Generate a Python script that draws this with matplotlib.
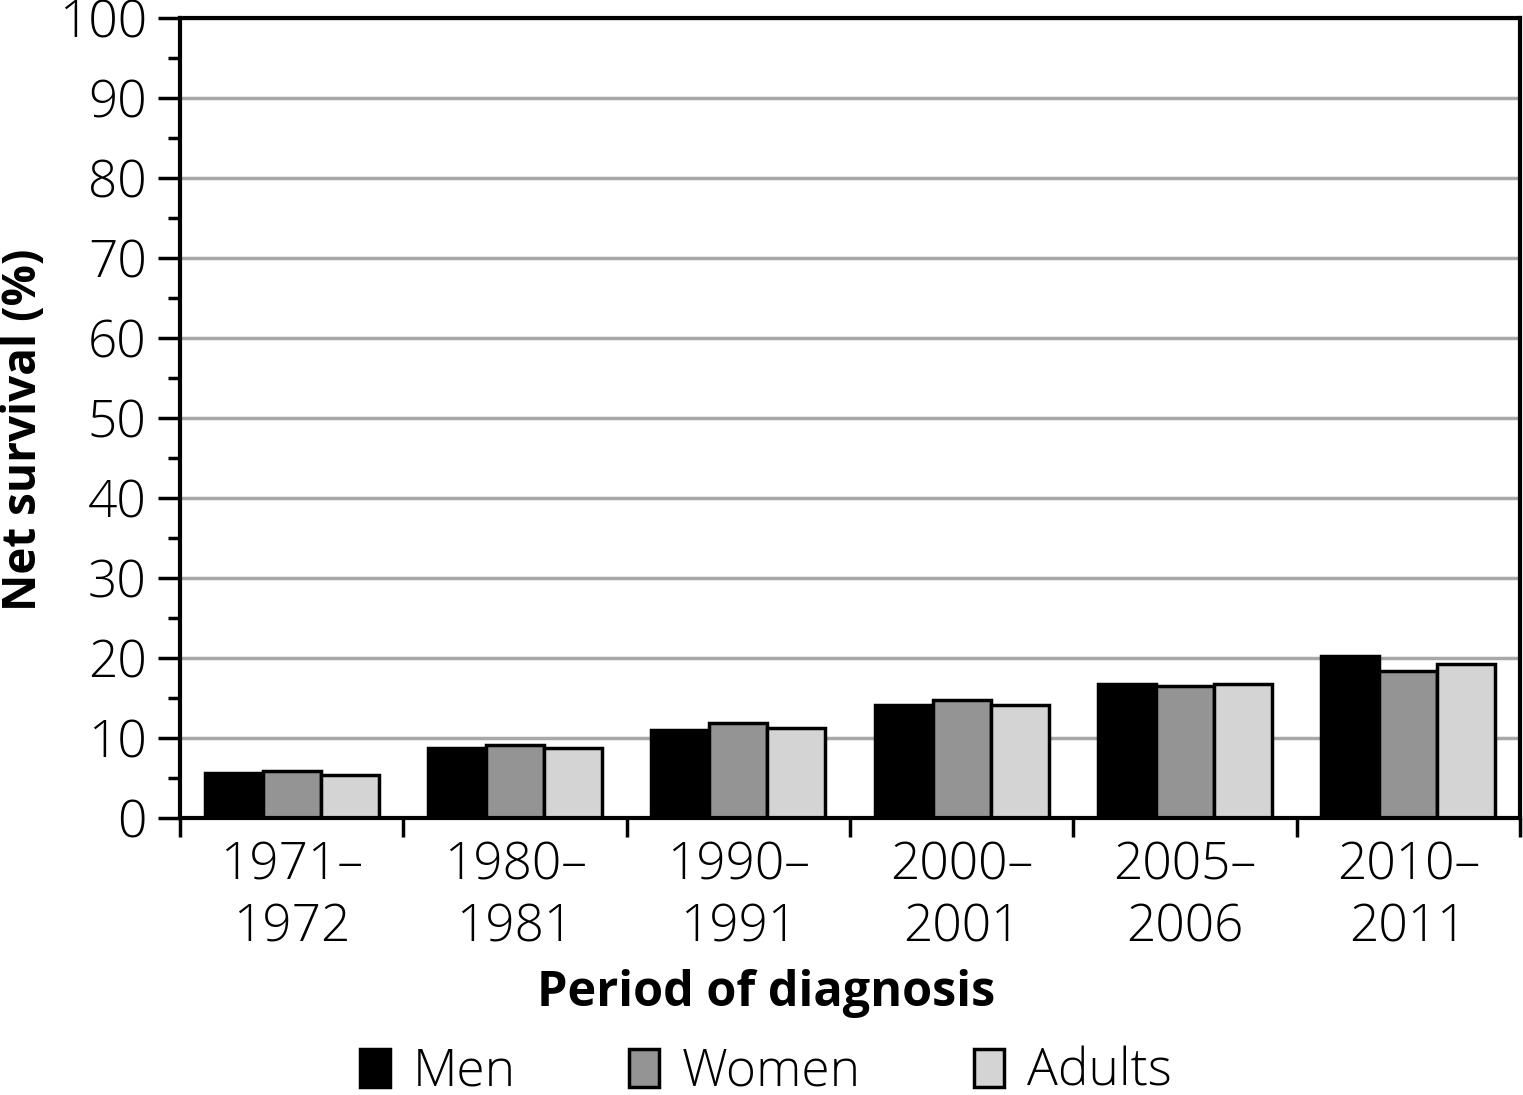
import numpy as np
import matplotlib
matplotlib.use('Agg')
import matplotlib.pyplot as plt
from matplotlib.ticker import MultipleLocator, FixedLocator, NullFormatter

plt.rcParams['font.family'] = ['Open Sans', 'DejaVu Sans']

# data
periods = ['1971\u2013\n1972', '1980\u2013\n1981', '1990\u2013\n1991',
           '2000\u2013\n2001', '2005\u2013\n2006', '2010\u2013\n2011']
men = [5.6, 8.8, 11.0, 14.1, 16.8, 20.2]
women = [5.9, 9.1, 11.9, 14.8, 16.5, 18.4]
adults = [5.4, 8.7, 11.2, 14.1, 16.8, 19.3]
series = [('Men', men, 'black'), ('Women', women, '#949494'),
          ('Adults', adults, '#d4d4d4')]

fig = plt.figure(figsize=(15.23, 10.95), dpi=100)
ax = fig.add_axes([180/1523, 1-818/1095, 1340/1523, 800/1095])

x = np.arange(len(periods))
bw = 0.26
for k, (name, vals, col) in enumerate(series):
    ax.bar(x + (k-1)*bw, vals, bw, color=col, edgecolor='black',
           linewidth=2.5, label=name, zorder=3)

# axes styling
ax.set_xlim(-0.5, len(periods)-0.5)
ax.set_ylim(0, 100)
ax.yaxis.set_major_locator(MultipleLocator(10))
ax.yaxis.set_minor_locator(MultipleLocator(5))
ax.grid(axis='y', which='major', color='#a8a8a8', linewidth=2.5, zorder=0)
ax.set_xticks(x)
ax.set_xticklabels(periods, fontsize=37, fontweight='light', linespacing=1.25)
ax.xaxis.set_minor_locator(FixedLocator(np.arange(len(periods)+1) - 0.5))
ax.xaxis.set_minor_formatter(NullFormatter())
ax.tick_params(axis='x', which='major', length=0, pad=16)
ax.tick_params(axis='x', which='minor', length=14, width=2.5, direction='out')
ax.tick_params(axis='y', which='major', length=16, width=2.5, labelsize=37,
               pad=8)
ax.tick_params(axis='y', which='minor', length=9, width=2.5)
for lab in ax.get_yticklabels():
    lab.set_fontweight('light')
for s in ax.spines.values():
    s.set_linewidth(3)
    s.set_zorder(4)

ax.set_ylabel('Net survival (%)', fontsize=33, fontweight='bold')
ax.yaxis.set_label_coords(-0.099, 0.485)
fig.text(766/1523, 1-993/1095, 'Period of diagnosis', fontsize=35,
         fontweight='bold', ha='center', va='center')

leg = fig.legend(loc='center', bbox_to_anchor=(766/1523, 1-1072/1095), ncol=3,
                 frameon=False, fontsize=37, handlelength=0.58,
                 handleheight=0.75, columnspacing=2.2, handletextpad=0.45,
                 borderpad=0.2)
for t in leg.get_texts():
    t.set_fontweight('light')

fig.savefig('out.png', dpi=100)
